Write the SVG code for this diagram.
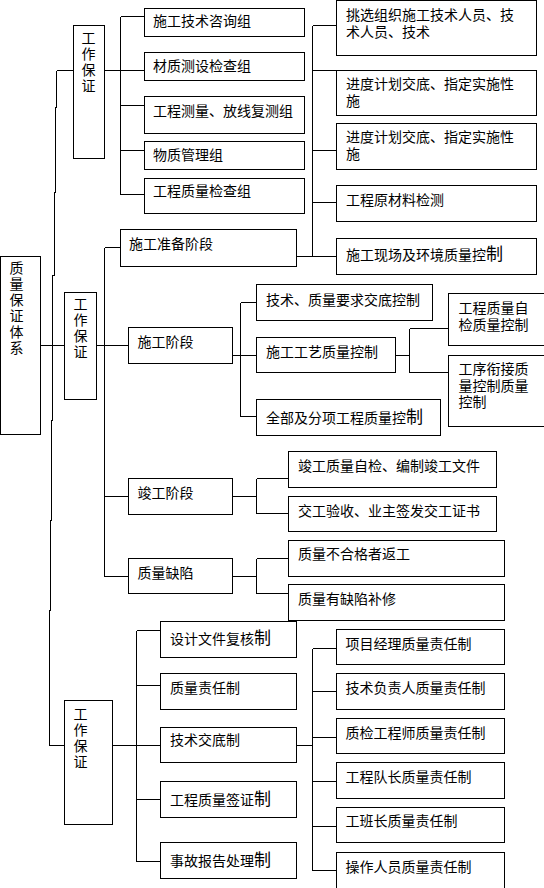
<svg xmlns="http://www.w3.org/2000/svg" width="544" height="888" viewBox="0 0 544 888">
<style>
rect{fill:#fff;stroke:#000;stroke-width:1;shape-rendering:crispEdges}
.c path{fill:none;stroke:#000;stroke-width:1;shape-rendering:crispEdges}
text{font-family:"Noto Sans CJK SC","Noto Sans",sans-serif;font-size:14px;fill:#000}
.v{writing-mode:vertical-rl;letter-spacing:2px}
.b{font-size:17px}
</style>
<rect x="0" y="0" width="544" height="888" style="stroke:none;fill:#fff"/>
<g class="c" id="connectors">
<path d="M56.5,70.5 V107 H55.5 V192 H54.5 V275 H52.5 V420 H51.5 V520 H50.5 V610 H49.5 V745.5 H64.5"/>
<path d="M56.5,70.5 H73.5"/>
<path d="M104.5,70.5 H120.5 M120.5,16.5 V194.5 M120.5,16.5 H144.5 M120.5,70.5 H144.5 M120.5,105.5 H144.5 M120.5,150.5 H144.5 M120.5,194.5 H144.5"/>
<path d="M312.5,25.5 V256.5 M312.5,25.5 H336.5 M312.5,70.5 H336.5 M312.5,150.5 H336.5 M312.5,202.5 H336.5 M296.5,256.5 H336.5"/>
<path d="M40.5,345.5 H64.5"/>
<path d="M96.5,345.5 H128.5 M104.5,247.5 V576.5 M104.5,247.5 H120.5 M104.5,496.5 H128.5 M104.5,576.5 H128.5"/>
<path d="M232.5,355.5 H240.5 M240.5,302.5 V416.5 M240.5,302.5 H256.5 M240.5,355.5 H256.5 M240.5,416.5 H256.5"/>
<path d="M395.5,355.5 H409.5 M409.5,328.5 V372.5 M409.5,328.5 H448.5 M409.5,372.5 H448.5"/>
<path d="M232.5,496.5 H256.5 M256.5,478.5 V513.5 M256.5,478.5 H288.5 M256.5,513.5 H288.5"/>
<path d="M232.5,576.5 H256.5 M256.5,558.5 V593.5 M256.5,558.5 H288.5 M256.5,593.5 H288.5"/>
<path d="M112.5,745.5 H136.5 M136.5,630.5 V861.5 M136.5,630.5 H160.5 M136.5,685.5 H160.5 M136.5,745.5 H160.5 M136.5,799.5 H160.5 M136.5,861.5 H160.5"/>
<path d="M296.5,745.5 H312.5 M312.5,648.5 V870.5 M312.5,648.5 H336.5 M312.5,691.5 H336.5 M312.5,737.5 H336.5 M312.5,781.5 H336.5 M312.5,826.5 H336.5 M312.5,870.5 H336.5"/>
</g>
<g id="wg1"><rect x="73.5" y="25.5" width="31" height="133"/><text class="v" x="88.5" y="31">工作保证</text></g>
<g id="n-c1"><rect x="144.5" y="8.5" width="160" height="28"/><text x="153" y="26">施工技术咨询组</text></g>
<g id="n-c2"><rect x="144.5" y="52.5" width="160" height="28"/><text x="153" y="71">材质测设检查组</text></g>
<g id="n-c3"><rect x="144.5" y="96.5" width="160" height="37"/><text x="153" y="116">工程测量、放线复测组</text></g>
<g id="n-c4"><rect x="144.5" y="141.5" width="160" height="28"/><text x="153" y="160">物质管理组</text></g>
<g id="n-c5"><rect x="144.5" y="178.5" width="160" height="35"/><text x="153" y="196">工程质量检查组</text></g>
<g id="n-ra"><rect x="336.5" y="0.5" width="200" height="55"/><text x="346" y="20">挑选组织施工技术人员、技<tspan x="346" dy="17">术人员、技术</tspan></text></g>
<g id="n-rb"><rect x="336.5" y="70.5" width="200" height="45"/><text x="346" y="89">进度计划交底、指定实施性<tspan x="346" dy="17">施</tspan></text></g>
<g id="n-rc"><rect x="336.5" y="123.5" width="200" height="46"/><text x="346" y="142">进度计划交底、指定实施性<tspan x="346" dy="17">施</tspan></text></g>
<g id="n-rd"><rect x="336.5" y="185.5" width="200" height="36"/><text x="346" y="205">工程原材料检测</text></g>
<g id="n-re"><rect x="336.5" y="238.5" width="200" height="36"/><text x="346" y="260">施工现场及环境质量控<tspan class="b">制</tspan></text></g>
<g id="n-prep"><rect x="120.5" y="229.5" width="176" height="37"/><text x="129" y="249">施工准备阶段</text></g>
<g id="root"><rect x="0.5" y="256.5" width="40" height="178"/><text class="v" x="16.5" y="261">质量保证体系</text></g>
<g id="wg2"><rect x="64.5" y="292.5" width="32" height="107"/><text class="v" x="80.5" y="297">工作保证</text></g>
<g id="n-sg"><rect x="128.5" y="327.5" width="104" height="36"/><text x="137.5" y="347">施工阶段</text></g>
<g id="n-m1"><rect x="256.5" y="284.5" width="176" height="36"/><text x="266" y="305">技术、质量要求交底控制</text></g>
<g id="n-m2"><rect x="256.5" y="337.5" width="139" height="35"/><text x="266" y="357">施工工艺质量控制</text></g>
<g id="n-m3"><rect x="256.5" y="399.5" width="184" height="36"/><text x="266" y="423">全部及分项工程质量控<tspan class="b">制</tspan></text></g>
<g id="n-q1"><rect x="448.5" y="293.5" width="100" height="52"/><text x="458.5" y="313">工程质量自<tspan x="458.5" dy="17">检质量控制</tspan></text></g>
<g id="n-q2"><rect x="448.5" y="355.5" width="100" height="71"/><text x="458.5" y="374">工序衔接质<tspan x="458.5" dy="16.5">量控制质量</tspan><tspan x="458.5" dy="16.5">控制</tspan></text></g>
<g id="n-jg"><rect x="128.5" y="478.5" width="104" height="36"/><text x="137.5" y="498">竣工阶段</text></g>
<g id="n-j1"><rect x="288.5" y="451.5" width="208" height="36"/><text x="298" y="471">竣工质量自检、编制竣工文件</text></g>
<g id="n-j2"><rect x="288.5" y="496.5" width="208" height="35"/><text x="298" y="516">交工验收、业主签发交工证书</text></g>
<g id="n-qx"><rect x="128.5" y="558.5" width="104" height="35"/><text x="137.5" y="578">质量缺陷</text></g>
<g id="n-x1"><rect x="288.5" y="540.5" width="216" height="36"/><text x="298" y="559">质量不合格者返工</text></g>
<g id="n-x2"><rect x="288.5" y="584.5" width="216" height="36"/><text x="298" y="604">质量有缺陷补修</text></g>
<g id="wg3"><rect x="64.5" y="700.5" width="48" height="124"/><text class="v" x="80.5" y="707">工作保证</text></g>
<g id="n-b1"><rect x="160.5" y="621.5" width="136" height="36"/><text x="170" y="644">设计文件复核<tspan class="b">制</tspan></text></g>
<g id="n-b2"><rect x="160.5" y="673.5" width="136" height="36"/><text x="170" y="693">质量责任制</text></g>
<g id="n-b3"><rect x="160.5" y="727.5" width="136" height="35"/><text x="170" y="745">技术交底制</text></g>
<g id="n-b4"><rect x="160.5" y="781.5" width="136" height="36"/><text x="170" y="805">工程质量签证<tspan class="b">制</tspan></text></g>
<g id="n-b5"><rect x="160.5" y="842.5" width="136" height="36"/><text x="170" y="866">事故报告处理<tspan class="b">制</tspan></text></g>
<g id="n-r1"><rect x="336.5" y="629.5" width="168" height="35"/><text x="345.5" y="649">项目经理质量责任制</text></g>
<g id="n-r2"><rect x="336.5" y="673.5" width="168" height="36"/><text x="345.5" y="693">技术负责人质量责任制</text></g>
<g id="n-r3"><rect x="336.5" y="718.5" width="168" height="35"/><text x="345.5" y="738">质检工程师质量责任制</text></g>
<g id="n-r4"><rect x="336.5" y="762.5" width="168" height="36"/><text x="345.5" y="782">工程队长质量责任制</text></g>
<g id="n-r5"><rect x="336.5" y="807.5" width="168" height="35"/><text x="345.5" y="826">工班长质量责任制</text></g>
<g id="n-r6"><rect x="336.5" y="852.5" width="168" height="40"/><text x="345.5" y="872">操作人员质量责任制</text></g>
</svg>
